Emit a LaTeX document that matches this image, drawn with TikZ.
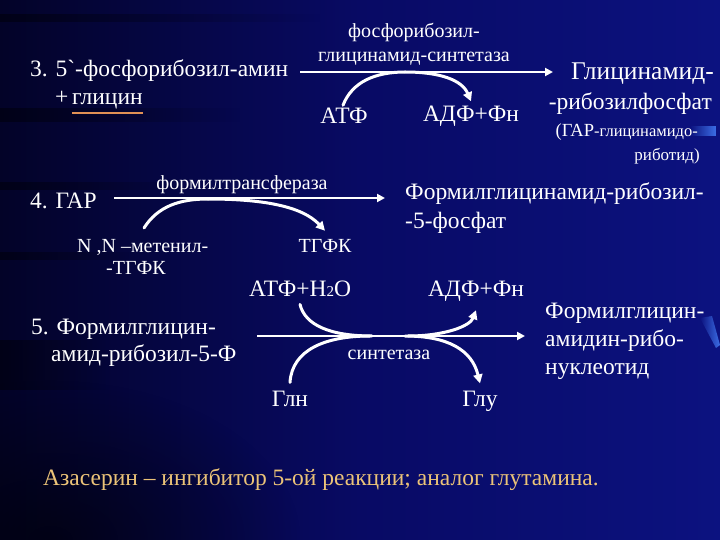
\documentclass[tikz,border=0pt]{standalone}
\usepackage{fontspec}
\setmainfont{Liberation Serif}
\newfontfamily\tnr{Liberation Serif}
\usetikzlibrary{arrows.meta,calc,fadings}
\definecolor{bgdark}{RGB}{3,3,40}
\definecolor{bgmid}{RGB}{8,10,100}
\definecolor{bgblue}{RGB}{12,18,128}
\definecolor{goldtxt}{RGB}{235,195,120}
\definecolor{uline}{RGB}{225,145,85}
\definecolor{glow}{RGB}{60,110,230}
\tikzfading[name=fadeout right, left color=transparent!40, right color=transparent!100]
\tikzfading[name=fadeout left, left color=transparent!100, right color=transparent!0]
\tikzfading[name=soft corner, inner color=transparent!45, outer color=transparent!100]
\begin{document}
\begin{tikzpicture}[x=1pt,y=-1pt,
  big/.style={text=white,inner sep=0pt,font=\tnr\fontsize{23.5}{28}\selectfont},
  small/.style={text=white,inner sep=0pt,font=\tnr\fontsize{20}{24}\selectfont},
  streak/.style={black,opacity=0.7,path fading=fadeout right},
  arr/.style={white,line width=2.8pt,-{Triangle[length=8pt,width=8pt]}},
  curvearr/.style={white,line width=3pt,line cap=round,-{Triangle[length=9pt,width=9pt]}},
  curveln/.style={white,line width=3pt,line cap=round}]
\shade[left color=bgdark,right color=bgblue,middle color=bgmid] (0,0) rectangle (720,540);
\useasboundingbox (0,0) rectangle (720,540);
% background streaks
\fill[black,path fading=soft corner] (-200,380) rectangle (300,700);
\fill[streak] (0,14) rectangle (320,22);
\fill[streak] (0,108) rectangle (240,122);
\fill[streak] (0,182) rectangle (190,190);
\fill[streak] (0,252) rectangle (140,260);
\fill[streak] (0,340) rectangle (110,390);
\fill[glow,path fading=fadeout left] (690,126) rectangle (716,136);
\fill[glow,path fading=fadeout left] (700,318) -- (712,316) -- (720,345) -- (716,348) -- cycle;
% reaction 3
\node[big,anchor=base west] (r3) at (30,77) {3. 5\textasciigrave-фосфорибозил-амин};
\node[big,anchor=base west] (plus) at (55,105) {+};
\node[big,anchor=base west] (gly) at (72,105) {глицин};
\draw[uline,line width=2pt] ($(gly.base west)+(0,8)$) -- ($(gly.base east)+(0,8)$);
\node[small,anchor=base,align=center] (enz3) at (414,62) {фосфорибозил-\\глицинамид-синтетаза};
\node[text=white,inner sep=0pt,font=\tnr\fontsize{25.5}{28}\selectfont,anchor=base east] (p3a) at (714,80) {Глицинамид-};
\node[big,anchor=base east] (p3b) at (712,110) {-рибозилфосфат};
\node[text=white,inner sep=0pt,anchor=base east] (p3c) at (698,137) {{\tnr\fontsize{18.5}{20}\selectfont (ГАР}{\tnr\fontsize{16.5}{20}\selectfont -глицинамидо-}};
\node[text=white,inner sep=0pt,font=\tnr\fontsize{17}{20}\selectfont,anchor=base east] (p3d) at (700,161) {риботид)};
\node[big,anchor=base] (atp3) at (344,124) {АТФ};
\node[big,anchor=base] (adp3) at (471,122) {АДФ+Фн};
\coordinate (a3s) at (300,72);
\coordinate (a3e) at (553,72);
\draw[arr] (a3s) -- (a3e);
\draw[curveln] ($(atp3.north)+(-1,-3)$) .. controls (352,82) and (375,72) .. (405,72);
\draw[curvearr] (405,72) .. controls (440,72) and (462,80) .. ($(adp3.north)+(0,-5)$);
% reaction 4
\node[big,anchor=base west] (r4) at (30,209) {4. ГАР};
\node[small,anchor=base] (enz4) at (242,190) {формилтрансфераза};
\node[big,anchor=base west] (p4) at (405,200) {Формилглицинамид-рибозил-};
\node[big,anchor=base west] (p4b) at (405,229) {-5-фосфат};
\node[small,anchor=base west] (thf1) at (77,252) {N ,N –метенил-};
\node[small,anchor=base west] (thf1b) at (106,274) {-ТГФК};
\node[small,anchor=base] (thf2) at (325,252) {ТГФК};
\coordinate (a4s) at (114,198);
\coordinate (a4e) at (385,198);
\draw[arr] (a4s) -- (a4e);
\draw[curveln] (144,228) .. controls (158,206) and (180,199) .. (208,199);
\draw[curvearr] (208,199) .. controls (262,199) and (302,206) .. ($(thf2.north)+(0,-8)$);
% reaction 5
\node[big,anchor=base west] (r5) at (31,334) {5. Формилглицин-};
\node[big,anchor=base west] (r5b) at (51,361) {амид-рибозил-5-Ф};
\node[big,anchor=base] (atp5) at (300,296) {АТФ+Н{\fontsize{15}{15}\selectfont 2}О};
\node[big,anchor=base] (adp5) at (476,296) {АДФ+Фн};
\node[small,anchor=base] (enz5) at (389,359) {синтетаза};
\node[big,anchor=base] (gln) at (290,406) {Глн};
\node[big,anchor=base] (glu) at (480,406) {Глу};
\node[big,anchor=base west] (p5) at (545,318) {Формилглицин-};
\node[big,anchor=base west] (p5b) at (545,346) {амидин-рибо-};
\node[big,anchor=base west] (p5c) at (545,374) {нуклеотид};
\coordinate (a5s) at (257,336);
\coordinate (a5e) at (525,336);
\draw[arr] (a5s) -- (a5e);
\draw[curveln] ($(atp5.south)+(0,8)$) .. controls (305,325) and (330,336) .. (372,336);
\draw[curveln] ($(gln.north)+(0,-8)$) .. controls (292,350) and (325,336) .. (370,336);
\draw[curvearr] (408,336) .. controls (445,336) and (470,326) .. ($(adp5.south)+(0,9)$);
\draw[curvearr] (405,336) .. controls (448,336) and (472,350) .. ($(glu.north)+(0,-7)$);
% note
\node[inner sep=0pt,anchor=base west,text=goldtxt,font=\tnr\fontsize{23.5}{26}\selectfont] (note) at (43,485) {Азасерин – ингибитор 5-ой реакции; аналог глутамина.};
\end{tikzpicture}
\end{document}
